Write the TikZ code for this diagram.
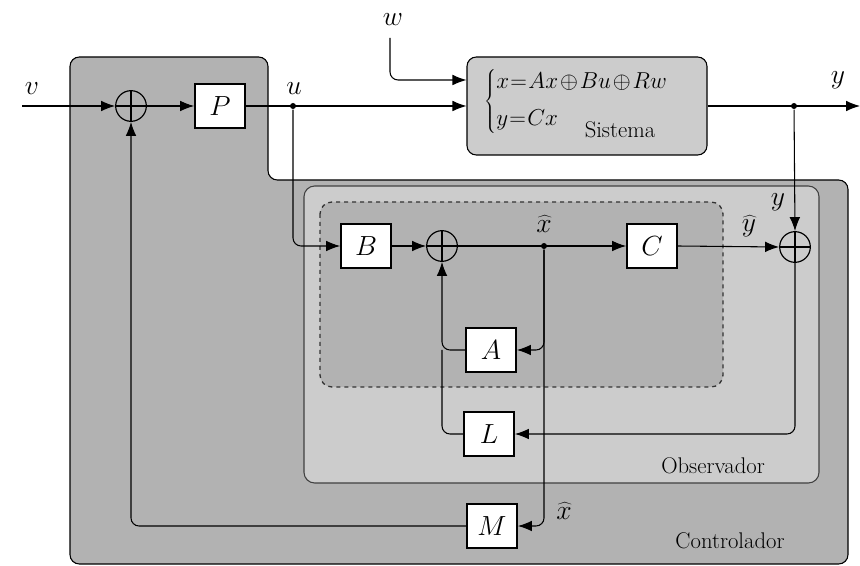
\documentclass[tikz,border=0pt]{standalone}
\usetikzlibrary{arrows.meta,calc}
\begin{document}
\begin{tikzpicture}[x=0.75pt,y=-0.75pt,
  line width=0.8pt,
  arr/.style={-{Latex[length=10.5pt,width=8pt]}},
  blk/.style={draw,fill=white,line width=1.3pt,minimum width=37.5pt,minimum height=33pt,inner sep=0pt,font=\fontsize{21}{21}\selectfont},
  sumc/.style={draw,circle,minimum size=23pt,inner sep=0pt,line width=0.9pt,
    path picture={\draw[line width=0.8pt] (path picture bounding box.north) -- (path picture bounding box.south)
      (path picture bounding box.west) -- (path picture bounding box.east);}},
  lbl/.style={font=\fontsize{20}{20}\selectfont,inner sep=0pt},
  txt/.style={font=\fontsize{17}{18}\selectfont,inner sep=0pt},
  dot/.style={circle,fill=black,inner sep=0pt,minimum size=4.5pt}]
\useasboundingbox (0,0) rectangle (860,566);
% containers
\filldraw[fill=black!30,draw=black,line width=0.8pt,rounded corners=7pt]
  (70,57) -- (268,57) -- (268,180) -- (848,180) -- (848,564) -- (70,564) -- cycle;
\filldraw[fill=black!20,draw=black!75,line width=0.8pt,rounded corners=8pt]
  (304,186) rectangle (819,483);
\filldraw[fill=black!30,draw=black!80,dashed,line width=1pt,rounded corners=9pt]
  (320,202) rectangle (723,387);
\node[txt] (obs) at (713,466) {Observador};
\node[txt] (ctl) at (730,541) {Controlador};
% system
\node[draw,fill=black!20,rounded corners=7pt,minimum width=180pt,minimum height=73.5pt,inner sep=0pt] (sys) at (587,106) {};
\node[anchor=west,inner sep=0pt,font=\fontsize{17}{20}\selectfont] (eq) at (484,102)
  {$\medmuskip=1.5mu\thickmuskip=1mu\left\{\begin{array}{@{}l@{}} x=Ax\oplus Bu\oplus Rw\\[8pt] y=Cx\end{array}\right.$};
\node[txt] (sist) at (620,130) {Sistema};
% blocks
\node[blk] (P) at (220,106) {$P$};
\node[blk] (B) at (366,246) {$B$};
\node[blk] (C) at (652,246) {$C$};
\node[blk] (A) at (491,350) {$A$};
\node[blk] (L) at (489,434) {$L$};
\node[blk] (M) at (492,526) {$M$};
\node[sumc] (s1) at (131,106) {};
\node[sumc] (s2) at (442,246) {};
\node[sumc] (s3) at (795,247) {};
% coordinates
\coordinate (vin) at (22,106);
\coordinate (win) at (390,38);
\coordinate (yout) at (860,106);
\node[dot] (uj) at (293,106) {};
\node[dot] (yj) at (794,106) {};
\node[dot] (xj) at (544,246) {};
% labels
\node[lbl] (lv) at (32,89) {$v$};
\node[lbl] (lu) at (294,89) {$u$};
\node[lbl] (lw) at (393,20) {$w$};
\node[lbl] (ly) at (838,80) {$y$};
\node[lbl] (ly2) at (778,202) {$y$};
\node[lbl] (lyh) at (749,226) {$\widehat{y}$};
\node[lbl] (lxh) at (544,224) {$\widehat{x}$};
\node[lbl] (lxh2) at (564,511) {$\widehat{x}$};
% connectors
\draw[arr] (vin) -- (s1.west);
\draw[arr] (s1.east) -- (P.west);
\draw[arr] (P.east) -- (P.east -| sys.west);
\draw[arr,rounded corners=6pt] (win) |- ($(sys.west)+(0,-26)$);
\draw[arr] (sys.east) -- (yout);
\draw[arr] (yj) -- (s3.north);
\draw[arr,rounded corners=6pt] (uj) |- (B.west);
\draw[arr] (B.east) -- (s2.west);
\draw[arr] (s2.east) -- (C.west);
\draw[arr] (C.east) -- (s3.west);
\draw[arr,rounded corners=6pt] (xj) |- (A.east);
\draw[arr,rounded corners=6pt] (xj) |- (M.east);
\draw[arr,rounded corners=6pt] (A.west) -| (s2.south);
\draw[rounded corners=6pt] (L.west) -| (A.west -| s2.south);
\draw[arr,rounded corners=6pt] (s3.south) |- (L.east);
\draw[arr,rounded corners=6pt] (M.west) -| (s1.south);
\end{tikzpicture}
\end{document}
